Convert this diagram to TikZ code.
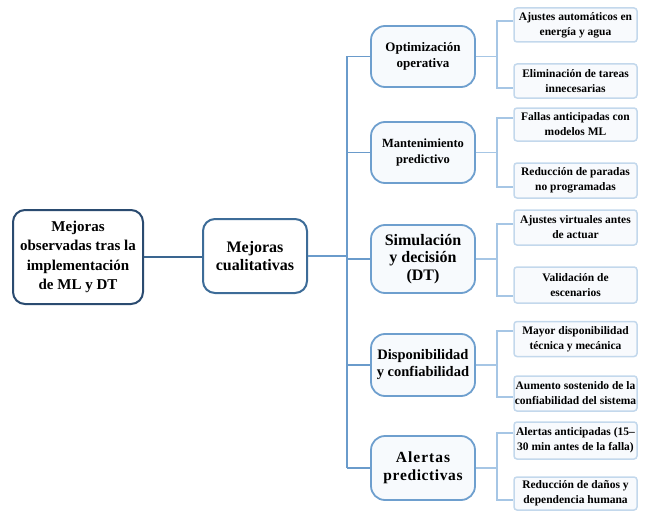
\documentclass[tikz,border=0pt]{standalone}
\usepackage{fontspec}
\setmainfont{Liberation Serif}[BoldFont={Liberation Serif Bold}]
\usetikzlibrary{calc}
\definecolor{cRoot}{HTML}{2A4B70}
\definecolor{cMid}{HTML}{3D6C98}
\definecolor{cLvl}{HTML}{6E9FCE}
\definecolor{cLeaf}{HTML}{C3D8EC}
\definecolor{cLinkA}{HTML}{3A6690}
\definecolor{cLinkB}{HTML}{6A9BCB}
\definecolor{cLinkC}{HTML}{A6C6E5}
\definecolor{fLvl}{HTML}{F7FAFD}
\definecolor{fLeaf}{HTML}{F8FAFD}
\begin{document}
\begin{tikzpicture}[x=1pt,y=-1pt,
  rootbox/.style={draw=cRoot, line width=2pt, rounded corners=12pt, fill=white,
    minimum width=130pt, minimum height=94pt, inner sep=0pt, align=center,
    font=\rmfamily\bfseries\fontsize{15}{19.5}\selectfont},
  midbox/.style={draw=cMid, line width=2pt, rounded corners=12pt, fill=white,
    minimum width=104pt, inner sep=0pt, align=center,
    font=\rmfamily\bfseries\fontsize{16}{18}\selectfont},
  lvlbox/.style={draw=cLvl, line width=1.8pt, rounded corners=14pt, fill=fLvl,
    minimum width=104pt, inner sep=0pt, align=center},
  leafbox/.style={draw=cLeaf, line width=1.5pt, rounded corners=3pt, fill=fLeaf,
    minimum width=123pt, inner sep=0pt, align=center,
    font=\rmfamily\bfseries\fontsize{11.5}{15}\selectfont},
  linkA/.style={draw=cLinkA, line width=2pt},
  linkB/.style={draw=cLinkB, line width=1.5pt},
  linkC/.style={draw=cLinkC, line width=1.5pt}]
\useasboundingbox (0,0) rectangle (648,511);

% root and middle
\node[rootbox] (root) at (78,257) {Mejoras\\observadas tras la\\implementación\\de ML y DT};
\node[midbox, minimum height=74pt] (mid) at (255,256) {Mejoras\\cualitativas};

% level 2
\node[lvlbox, minimum height=61pt, font=\rmfamily\bfseries\fontsize{13}{16}\selectfont] (opt) at (423,56.5) {Optimización\\operativa};
\node[lvlbox, minimum height=61pt, font=\rmfamily\bfseries\fontsize{12.5}{16}\selectfont] (man) at (423,152.5) {Mantenimiento\\predictivo};
\node[lvlbox, minimum height=68pt, font=\rmfamily\bfseries\fontsize{16}{17.5}\selectfont] (sim) at (423,259) {Simulación\\y decisión\\(DT)};
\node[lvlbox, minimum height=62pt, font=\rmfamily\bfseries\fontsize{14.5}{17}\selectfont] (dis) at (423,365) {Disponibilidad\\y confiabilidad};
\node[lvlbox, minimum height=64pt, font=\rmfamily\bfseries\fontsize{15.5}{18}\selectfont] (ale) at (423,468) {A\kern1pt l\kern1pt e\kern1pt r\kern1pt t\kern1pt a\kern1pt s\\p\kern0.6pt r\kern0.6pt e\kern0.6pt d\kern0.6pt i\kern0.6pt c\kern0.6pt t\kern0.6pt i\kern0.6pt v\kern0.6pt a\kern0.6pt s};

% leaves
\node[leafbox, minimum height=34pt] (l1) at (575.5,25) {Ajustes automáticos en\\energía y agua};
\node[leafbox, minimum height=34pt] (l2) at (575.5,81) {Eliminación de tareas\\innecesarias};
\node[leafbox, minimum height=33pt] (l3) at (575.5,124.5) {Fallas anticipadas con\\modelos ML};
\node[leafbox, minimum height=35pt] (l4) at (575.5,180.5) {Reducción de paradas\\no programadas};
\node[leafbox, minimum height=35pt] (l5) at (575.5,227.5) {Ajustes virtuales antes\\de actuar};
\node[leafbox, minimum height=36pt] (l6) at (575.5,285) {Validación de\\escenarios};
\node[leafbox, minimum height=35pt] (l7) at (575.5,339) {Mayor disponibilidad\\técnica y mecánica};
\node[leafbox, minimum height=35pt] (l8) at (575.5,393.5) {Aumento sostenido de la\\confiabilidad del sistema};
\node[leafbox, minimum height=37pt] (l9) at (575.5,440.5) {Alertas anticipadas (15–\\30 min antes de la falla)};
\node[leafbox, minimum height=33pt] (l10) at (575.5,493.5) {Reducción de daños y\\dependencia humana};

% connectors root -> mid
\draw[linkA] (root.east) -- (root.east -| mid.west);

% trunk
\coordinate (trunk) at (347,0);
\draw[linkB] (mid.east) -- (mid.east -| trunk);
\draw[linkB] (opt.west -| trunk) -- (ale.west -| trunk);
\foreach \n in {opt,man,sim,dis,ale}{
  \draw[linkB] (\n.west -| trunk) -- (\n.west);
}

% brackets
\coordinate (b1t) at (497,21);  \coordinate (b1b) at (497,88);
\coordinate (b2t) at (497,118); \coordinate (b2b) at (497,187);
\coordinate (b3t) at (497,224); \coordinate (b3b) at (497,296);
\coordinate (b4t) at (497,331); \coordinate (b4b) at (497,397);
\coordinate (b5t) at (497,433); \coordinate (b5b) at (497,500);
\foreach \p/\a/\b/\i in {opt/l1/l2/1, man/l3/l4/2, sim/l5/l6/3, dis/l7/l8/4, ale/l9/l10/5}{
  \draw[linkC] (\p.east) -- (\p.east -| b\i t);
  \draw[linkC] (b\i t -| \a.west) -- (b\i t) -- (b\i b) -- (b\i b -| \b.west);
}
\end{tikzpicture}
\end{document}
